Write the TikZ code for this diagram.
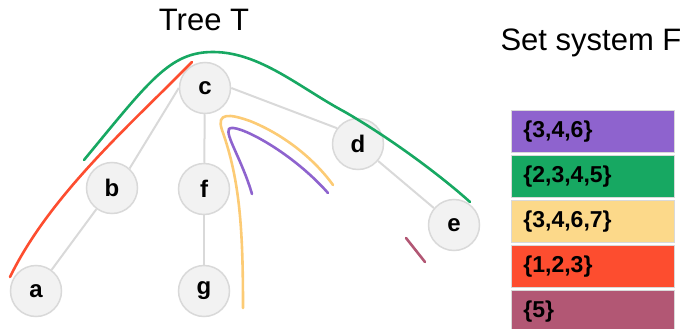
\documentclass[tikz,border=0pt]{standalone}
\usepackage{fontspec}
\setmainfont{Liberation Sans}

\definecolor{setpurple}{HTML}{8E63CE}
\definecolor{setgreen}{HTML}{17A862}
\definecolor{setyellow}{HTML}{FCD98A}
\definecolor{setred}{HTML}{FD4D2F}
\definecolor{setmauve}{HTML}{B25774}
\definecolor{vertexfill}{HTML}{F2F2F2}
\definecolor{vertexline}{HTML}{D9D9D9}

\begin{document}
\begin{tikzpicture}[x=1pt, y=-1pt,
    vertex/.style={circle, draw=vertexline, fill=vertexfill, line width=1.5pt,
      minimum size=51pt, inner sep=0pt, font=\fontsize{24}{24}\selectfont\bfseries},
    treeedge/.style={draw=vertexline, line width=2pt},
    setbox/.style={rectangle, draw=vertexline, line width=0.8pt, anchor=north west,
      minimum height=42pt, text width=139pt, inner xsep=12pt, inner ysep=0pt,
      align=left, font=\fontsize{23}{23}\selectfont\bfseries},
    title/.style={font=\fontsize{31}{31}\selectfont},
    setcurve/.style={line width=2.6pt, line cap=round}]
  \useasboundingbox (0,0) rectangle (688,329);

  % titles
  \node[title] (treetitle) at (204,20) {Tree T};
  \node[title] (settitle) at (591,43) {Set system F};

  % the tree
  \node[vertex] (c) at (205,88) {c};
  \node[vertex] (b) at (112,188) {b};
  \node[vertex] (a) at (36,291) {a};
  \node[vertex] (f) at (204,189) {f};
  \node[vertex] (g) at (204,291) {g};
  \node[vertex] (d) at (358,144) {d};
  \node[vertex] (e) at (454,225) {e};

  \draw[treeedge] (c.west) -- (b.48);
  \draw[treeedge] (b) -- (a);
  \draw[treeedge] (c) -- (f);
  \draw[treeedge] (f) -- (g);
  \draw[treeedge] (c.east) -- (d.143);
  \draw[treeedge] (d) -- (e);

  % the sets drawn over the tree
  \draw[setcurve, setgreen] (84,160) .. controls (150,80) and (170,52) .. (213,52)
    .. controls (260,52) and (300,88) .. (345,112)
    .. controls (390,138) and (440,175) .. (470,202);
  \draw[setcurve, setred] (192,62) .. controls (130,125) and (50,195) .. (10,277);
  \draw[setcurve, setyellow!85!orange] (243,308) .. controls (243,230) and (240,180) .. (222,130)
    .. controls (216,112) and (230,114) .. (250,121)
    .. controls (285,135) and (315,160) .. (333,185);
  \draw[setcurve, setpurple] (252,194) .. controls (242,160) and (225,135) .. (229,129)
    .. controls (234,122) and (290,150) .. (328,193);
  \draw[setcurve, setmauve] (406,238) -- (425,262);

  % the set system
  \node[setbox, fill=setpurple] (s1) at (511,110) {\{3,4,6\}};
  \node[setbox, fill=setgreen] (s2) at (511,155) {\{2,3,4,5\}};
  \node[setbox, fill=setyellow] (s3) at (511,200) {\{3,4,6,7\}};
  \node[setbox, fill=setred] (s4) at (511,245) {\{1,2,3\}};
  \node[setbox, fill=setmauve] (s5) at (511,290) {\{5\}};
\end{tikzpicture}
\end{document}
